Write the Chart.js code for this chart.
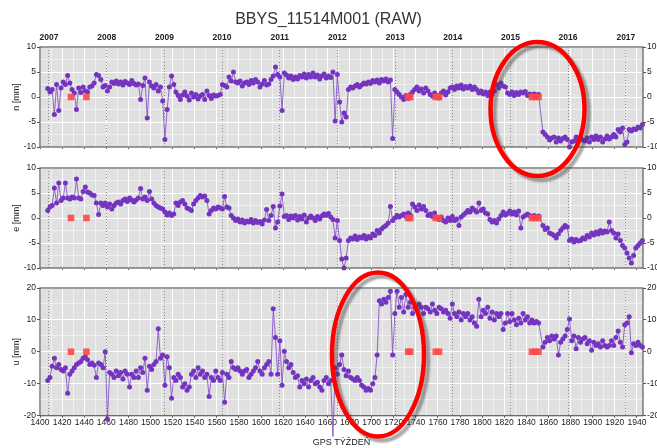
<!DOCTYPE html>
<html>
<head>
<meta charset="utf-8">
<title>BBYS_11514M001 (RAW)</title>
<script src="https://cdn.jsdelivr.net/npm/chart.js@4.4.1/dist/chart.umd.min.js"></script>
<style>
  body { margin: 0; background: #fff; }
  #wrap { position: relative; width: 657px; height: 448px; overflow: hidden; }
  #wrap canvas { position: absolute; left: 0; }
</style>
</head>
<body>
<div id="wrap">
  <canvas id="chartN" width="657" height="154" style="top:0"></canvas>
  <canvas id="chartE" width="657" height="125" style="top:150px"></canvas>
  <canvas id="chartU" width="657" height="178" style="top:270px"></canvas>
  <canvas id="rings" width="657" height="448" style="top:0"></canvas>
</div>
<script>
// GPS weeks of the solutions
const weeks = [1407,1409,1411,1413,1415,1417,1419,1421,1423,1425,
  1427,1429,1431,1433,1435,1437,1439,1441,1443,1445,
  1447,1449,1451,1453,1455,1457,1459,1461,1463,1465,
  1467,1469,1471,1473,1475,1477,1479,1481,1483,1485,
  1487,1489,1491,1493,1495,1497,1499,1501,1503,1505,
  1507,1509,1511,1513,1515,1517,1519,1521,1523,1525,
  1527,1529,1531,1533,1535,1537,1539,1541,1543,1545,
  1547,1549,1551,1553,1555,1557,1559,1561,1563,1565,
  1567,1569,1571,1573,1575,1577,1579,1581,1583,1585,
  1587,1589,1591,1593,1595,1597,1599,1601,1603,1605,
  1607,1609,1611,1613,1615,1617,1619,1621,1623,1625,
  1627,1629,1631,1633,1635,1637,1639,1641,1643,1645,
  1647,1649,1651,1653,1655,1657,1659,1661,1663,1665,
  1667,1669,1671,1673,1675,1677,1679,1681,1683,1685,
  1687,1689,1691,1693,1695,1697,1699,1701,1703,1705,
  1707,1709,1711,1713,1715,1717,1719,1721,1723,1725,
  1727,1729,1731,1733,1735,1737,1739,1741,1743,1745,
  1747,1749,1751,1753,1755,1757,1759,1761,1763,1765,
  1767,1769,1771,1773,1775,1777,1779,1781,1783,1785,
  1787,1789,1791,1793,1795,1797,1799,1801,1803,1805,
  1807,1809,1811,1813,1815,1817,1819,1821,1823,1825,
  1827,1829,1831,1833,1835,1837,1839,1841,1843,1845,
  1847,1849,1851,
  1855,1857,1859,1861,1863,1865,1867,1869,1871,1873,
  1875,1877,1879,1881,1883,1885,1887,1889,1891,1893,
  1895,1897,1899,1901,1903,1905,1907,1909,1911,1913,
  1915,1917,1919,1921,1923,1925,1927,1929,1931,1933,
  1935,1937,1939,1941,1943,1945];

// n [mm]
const north = [1.7,1.0,1.5,-3.5,2.5,-2.7,1.8,3.0,2.5,4.3,
  2.8,1.5,0.8,-2.5,1.8,0.9,2.0,1.2,1.0,2.0,
  2.2,2.8,4.5,4.3,3.5,2.0,2.3,1.2,2.0,3.0,
  2.7,3.2,2.6,3.0,2.4,3.1,2.8,2.5,3.3,2.7,
  2.4,2.6,-0.5,2.3,3.8,-4.2,3.0,2.2,1.8,2.5,
  1.2,2.0,-0.8,-8.5,-2.5,2.0,4.2,2.5,1.0,0.3,
  -0.5,0.4,1.0,0.2,-0.6,0.8,0.0,0.5,-0.4,0.2,
  0.5,-0.5,1.2,0.3,-0.3,0.4,0.2,0.3,0.5,2.5,
  2.3,2.0,4.0,3.2,5.0,3.0,2.8,3.2,2.2,2.8,
  3.0,2.5,3.3,2.8,3.5,3.0,2.0,2.6,3.3,2.4,
  2.6,3.5,4.2,6.0,4.5,4.0,-2.7,4.8,4.4,3.8,
  4.2,3.5,4.0,3.6,4.3,4.0,4.6,3.8,4.5,4.0,
  4.8,4.0,4.4,3.6,4.2,4.6,3.8,4.2,3.9,5.0,
  -4.8,4.5,-1.0,-5.0,-3.2,-4.0,1.5,2.0,1.8,2.2,
  2.5,2.0,2.4,2.8,2.6,3.0,2.7,3.3,3.0,3.4,
  2.8,3.5,3.2,3.6,3.0,3.4,-8.3,1.5,1.0,0.5,
  0.0,-0.5,0.3,-0.3,0.5,1.0,1.5,2.0,1.2,1.6,
  0.8,1.8,1.2,0.5,0.2,0.8,0.3,-0.2,0.8,1.2,
  0.4,1.0,1.8,2.0,1.5,2.2,1.8,2.4,1.6,2.1,
  1.8,2.2,1.5,2.0,1.5,0.8,1.2,0.6,1.0,0.3,
  1.0,0.5,1.2,2.5,1.8,2.8,2.2,2.0,0.8,0.5,
  1.0,0.3,0.9,0.5,1.0,0.8,1.1,0.3,0.6,0.4,
  0.6,0.4,0.5,
  -7.0,-7.5,-8.0,-8.6,-8.2,-8.0,-9.0,-8.2,-8.8,-8.3,
  -8.0,-8.5,-10.0,-9.0,-8.8,-8.0,-8.5,-8.0,-8.6,-8.8,
  -8.2,-9.0,-8.0,-8.5,-7.8,-8.5,-8.0,-9.0,-8.4,-7.8,
  -8.4,-8.0,-7.5,-8.0,-6.5,-7.0,-6.2,-9.5,-9.0,-6.5,
  -6.8,-6.4,-6.5,-6.0,-6.2,-5.5];

// e [mm]
const east = [1.5,2.2,2.5,6.0,3.0,7.0,3.5,4.0,7.0,4.0,
  3.8,4.2,4.0,7.8,4.0,3.8,5.3,6.2,5.2,5.0,
  4.6,4.5,3.0,0.7,3.0,2.5,3.0,2.2,2.8,1.8,
  2.5,3.0,3.2,2.8,3.5,3.8,3.3,4.0,3.6,3.2,
  3.6,4.0,5.9,3.8,4.2,3.5,5.3,3.8,3.0,2.5,
  2.2,2.0,1.8,1.2,0.6,1.0,0.5,0.8,3.0,2.5,
  3.2,3.5,2.8,2.0,1.8,1.5,2.8,3.5,4.0,4.5,
  4.2,4.4,3.5,0.8,1.5,2.0,1.8,2.2,2.0,1.8,
  4.3,2.2,2.0,0.5,0.0,-0.5,-0.2,-0.8,-0.4,-1.0,
  -0.6,-0.8,-0.3,-1.0,-0.5,-0.9,-0.7,-1.2,-0.4,1.7,
  -0.5,0.5,2.3,-2.0,-0.8,2.4,4.8,0.3,0.5,-0.3,
  0.4,0.0,0.5,-0.4,0.3,-0.2,0.6,-0.8,0.0,0.4,
  0.0,-0.5,0.3,-0.2,0.4,0.8,0.5,0.9,0.2,-0.3,
  -4.0,-0.5,-4.5,-8.2,-10.0,-8.0,-4.5,-4.0,-4.2,-3.6,
  -4.3,-3.8,-4.0,-3.5,-4.2,-3.7,-4.0,-3.2,-3.5,-2.5,
  -3.0,-2.2,-1.8,-1.5,-1.0,2.3,-0.5,0.0,0.5,0.2,
  0.5,0.8,0.3,1.0,0.6,2.8,2.2,1.5,2.6,1.8,
  2.3,1.5,0.5,0.8,0.3,1.0,0.0,-0.3,0.2,-0.5,
  -0.8,0.0,-0.5,0.3,-0.5,-0.2,-1.5,0.2,0.6,1.0,
  1.5,1.2,2.0,1.6,1.2,3.0,1.5,1.8,1.0,0.8,
  -0.3,-0.8,-0.5,-1.0,-0.2,0.5,1.2,0.6,0.9,1.4,
  0.8,1.2,0.6,1.4,-2.0,0.2,0.5,0.8,0.5,0.3,
  0.5,0.2,0.4,
  -1.5,-2.3,-2.0,-3.0,-3.2,-3.5,-4.0,-3.2,-2.5,-2.0,
  -1.5,-1.8,-4.5,-4.2,-4.8,-4.3,-4.6,-4.5,-4.0,-4.2,
  -3.5,-3.8,-3.0,-3.4,-2.8,-3.2,-2.5,-3.0,-2.6,-2.8,
  -0.8,-2.5,-3.0,-4.0,-3.2,-4.5,-5.5,-6.0,-7.0,-8.0,
  -9.0,-7.5,-6.0,-5.5,-5.0,-4.5];

// u [mm]
const up = [-9.0,-8.0,-4.5,-2.0,-5.0,-4.0,-5.5,-6.0,-5.0,-13.0,
  -7.0,-6.0,-5.0,-4.0,-3.5,-3.0,-2.0,-1.5,-2.5,-4.0,
  -3.5,-4.2,-8.0,-3.5,-4.0,-5.0,0.0,-21.0,-6.5,-7.0,
  -8.0,-6.0,-7.5,-6.5,-8.5,-6.0,-7.0,-11.0,-7.0,-8.0,
  -6.0,-8.0,-5.0,-6.5,-2.0,-12.0,-4.5,-5.5,-4.0,-3.0,
  7.2,-2.0,-1.0,-10.5,-1.5,-5.0,-14.5,-8.0,-9.0,-7.0,
  -8.0,-11.0,-10.0,-12.0,-11.0,-7.0,-6.0,-8.0,-5.0,-7.0,
  -6.0,-8.0,-7.0,-14.0,-8.0,-9.0,-6.0,-8.0,-9.0,-6.5,
  -15.8,-7.0,-8.0,-3.0,-5.0,-5.5,-5.0,-6.0,-7.0,-6.0,
  -5.5,-8.0,-7.0,-6.0,-5.0,-3.0,-6.0,-7.0,-5.0,-4.0,
  -3.0,-7.0,13.5,4.5,-7.0,3.5,-10.5,0.2,-3.0,-5.0,
  -4.0,-6.5,-8.0,-7.5,-11.0,-9.0,-10.0,-8.5,-11.0,-9.0,
  -8.0,-10.0,-9.5,-11.0,-12.0,-9.0,-8.0,-10.0,-9.0,-26.5,
  -5.0,-7.0,-4.0,-1.0,-5.5,-7.5,-6.0,-8.0,-8.5,-9.0,
  -8.0,-9.0,-10.5,-11.0,-12.0,-11.5,-12.0,-10.0,-8.0,-1.0,
  16.0,15.0,16.5,15.5,17.0,19.0,-1.0,12.0,19.0,14.0,
  17.0,12.5,18.0,14.0,15.5,12.0,14.0,13.0,15.0,14.0,
  12.0,14.0,13.5,12.5,15.0,13.0,12.0,14.0,13.5,12.5,
  13.0,12.0,10.5,15.0,12.0,11.0,12.5,10.0,12.0,11.0,
  12.0,10.0,11.0,9.0,8.0,16.5,11.0,13.0,12.0,14.0,
  10.5,12.5,10.0,12.0,11.0,12.0,7.0,9.0,12.0,9.5,
  12.0,10.0,8.5,10.5,9.0,12.0,10.0,11.0,9.0,10.0,
  9.0,9.5,9.0,
  1.5,3.0,4.5,3.5,5.0,4.0,5.0,-1.0,3.0,4.0,
  5.0,7.0,10.3,3.5,5.0,1.0,4.5,3.0,4.0,4.5,
  2.5,3.5,0.5,3.0,2.0,2.5,1.5,3.5,2.0,1.5,
  2.0,3.5,2.0,4.5,6.5,3.0,1.5,8.5,9.0,11.0,
  -0.3,2.5,2.0,3.0,2.0,1.5];

// equipment change marks (drawn at 0)
const changeWeeks = [1428, 1442, 1733, 1735, 1758, 1761, 1845, 1848, 1851];

const weekTicks = [1400,1420,1440,1460,1480,1500,1520,1540,1560,1580,1600,1620,1640,1660,1680,
  1700,1720,1740,1760,1780,1800,1820,1840,1860,1880,1900,1920,1940];
const yearWeeks = [1408.1, 1460.3, 1512.6, 1564.7, 1616.9, 1669.0, 1721.3, 1773.4, 1825.6, 1877.7, 1930.0];
const yearLabels = ['2007','2008','2009','2010','2011','2012','2013','2014','2015','2016','2017'];
const neTicks = [-10, -5, 0, 5, 10];
const uTicks = [-20, -10, 0, 10, 20];

const X_MIN = 1400, X_MAX = 1945.5;

Chart.defaults.font.family = "'Liberation Sans', Arial, sans-serif";
Chart.defaults.font.size = 8.5;
Chart.defaults.color = '#222';

const panelFrame = {
  id: 'panelFrame',
  beforeDraw(chart) {
    const a = chart.chartArea, c = chart.ctx;
    c.save();
    c.fillStyle = '#e0e0e0';
    c.fillRect(a.left, a.top, a.right - a.left, a.bottom - a.top);
    c.restore();
  },
  afterDraw(chart) {
    const a = chart.chartArea, c = chart.ctx;
    c.save();
    c.strokeStyle = '#5a5a5a';
    c.lineWidth = 1.2;
    c.strokeRect(a.left, a.top, a.right - a.left, a.bottom - a.top);
    c.restore();
  }
};

function halfSteps(list) {
  const out = [];
  list.forEach((v, i) => {
    out.push(v);
    if (i < list.length - 1) out.push((v + list[i + 1]) / 2);
  });
  return out;
}

function panel(id, o) {
  const yAll = halfSteps(o.yTicks);
  const xAll = halfSteps(weekTicks);
  const yMajor = v => o.yTicks.includes(v);
  const xMajor = v => weekTicks.includes(v);

  return new Chart(document.getElementById(id), {
    type: 'line',
    data: {
      datasets: [{
        data: changeWeeks.map(w => ({ x: w, y: 0 })),
        showLine: false,
        pointStyle: 'rect',
        pointRadius: 4.6,
        pointBackgroundColor: 'rgba(255,72,72,0.92)',
        pointBorderWidth: 0,
        order: 0
      }, {
        data: weeks.map((w, i) => ({ x: w, y: o.values[i] })),
        borderColor: 'rgba(135,85,200,0.9)',
        borderWidth: 1,
        pointRadius: 2.5,
        pointBackgroundColor: '#7434c0',
        pointBorderWidth: 0,
        tension: 0,
        clip: false,
        order: 1
      }]
    },
    options: {
      responsive: false,
      animation: false,
      events: [],
      layout: { padding: 0 },
      plugins: {
        legend: { display: false },
        tooltip: { enabled: false },
        title: {
          display: !!o.title,
          text: o.title || '',
          color: '#333',
          font: { size: 16, weight: 'normal' },
          padding: { top: 10, bottom: 0 }
        }
      },
      scales: {
        x: {
          type: 'linear', position: 'bottom', min: X_MIN, max: X_MAX,
          afterBuildTicks: s => { s.ticks = xAll.map(v => ({ value: v })); },
          afterFit: s => { s.height = o.bottomH; },
          ticks: {
            display: o.showWeeks, autoSkip: false, maxRotation: 0, padding: 0,
            callback: v => xMajor(v) ? String(v) : ''
          },
          grid: {
            z: -1,
            color: c => xMajor(c.tick.value) ? '#ffffff' : 'rgba(255,255,255,0.5)',
            tickLength: 2,
            tickColor: c => xMajor(c.tick.value) ? '#555' : 'rgba(0,0,0,0)'
          },
          border: { display: false },
          title: {
            display: o.showWeeks, text: 'GPS TÝŽDEŇ', color: '#222',
            font: { size: 9 }, padding: { top: 0, bottom: 0 }
          }
        },
        years: {
          type: 'linear', position: 'top', min: X_MIN, max: X_MAX,
          afterBuildTicks: s => { s.ticks = yearWeeks.map(v => ({ value: v })); },
          afterFit: s => { s.height = o.topH; },
          ticks: {
            display: o.showYears, autoSkip: false, maxRotation: 0, padding: 4,
            font: { size: 8.5, weight: 'bold' },
            callback: (v, i) => yearLabels[i]
          },
          grid: { color: '#8a8a8a', lineWidth: 1, drawTicks: false },
          border: { display: false, dash: [1, 2] }
        },
        y: {
          position: 'left', min: o.yTicks[0], max: o.yTicks[o.yTicks.length - 1],
          afterBuildTicks: s => { s.ticks = yAll.map(v => ({ value: v })); },
          afterFit: s => { s.width = 40; },
          ticks: { autoSkip: false, padding: 1, callback: v => yMajor(v) ? String(v) : '' },
          grid: {
            z: -1,
            color: c => yMajor(c.tick.value) ? '#ffffff' : 'rgba(255,255,255,0.5)',
            tickLength: 3,
            tickColor: c => yMajor(c.tick.value) ? '#555' : 'rgba(0,0,0,0)'
          },
          border: { display: false },
          title: {
            display: true, text: o.label, color: '#222',
            font: { size: 9 }, padding: { top: 11, bottom: 0 }
          }
        },
        yRight: {
          position: 'right', min: o.yTicks[0], max: o.yTicks[o.yTicks.length - 1],
          afterBuildTicks: s => { s.ticks = o.yTicks.map(v => ({ value: v })); },
          afterFit: s => { s.width = 14; },
          ticks: { autoSkip: false, padding: 1, callback: v => String(v) },
          grid: { drawOnChartArea: false, tickLength: 3, tickColor: '#555' },
          border: { display: false }
        }
      }
    },
    plugins: [panelFrame]
  });
}

panel('chartN', { values: north, yTicks: neTicks, label: 'n [mm]', title: 'BBYS_11514M001 (RAW)',
  showYears: true, showWeeks: false, topH: 17.8, bottomH: 7 });
panel('chartE', { values: east, yTicks: neTicks, label: 'e [mm]',
  showYears: false, showWeeks: false, topH: 18, bottomH: 7 });
panel('chartU', { values: up, yTicks: uTicks, label: 'u [mm]',
  showYears: false, showWeeks: true, topH: 18, bottomH: 32.3 });

// hand-drawn red rings of the original figure
const ring = document.getElementById('rings').getContext('2d');
function drawRing(cx, cy, rx, ry) {
  ring.save();
  ring.shadowColor = 'rgba(60,60,60,0.45)';
  ring.shadowOffsetX = 4;
  ring.shadowOffsetY = 4;
  ring.shadowBlur = 2;
  ring.strokeStyle = '#ff0000';
  ring.lineWidth = 4.5;
  ring.beginPath();
  ring.ellipse(cx, cy, rx, ry, 0, 0, Math.PI * 2);
  ring.stroke();
  ring.restore();
}
drawRing(537.5, 109, 47, 67);
drawRing(378, 354.5, 46, 82);
</script>
</body>
</html>
